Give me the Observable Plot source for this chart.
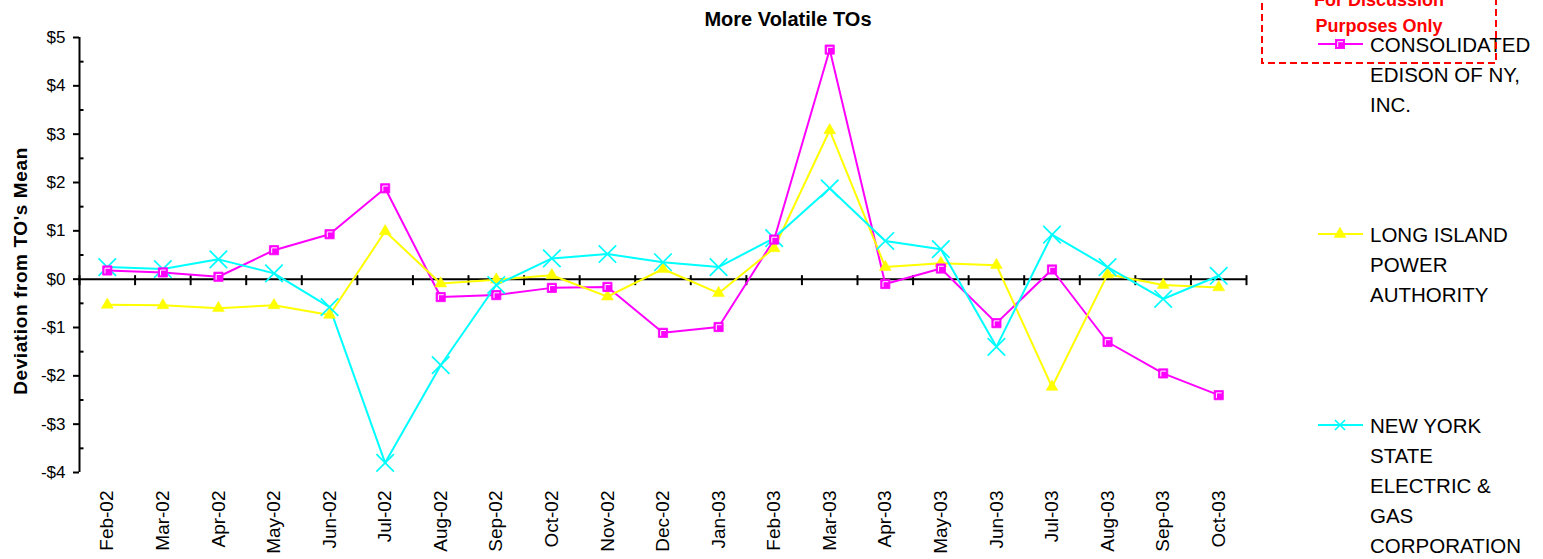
<!DOCTYPE html>
<html>
<head>
<meta charset="utf-8">
<script src="https://cdn.jsdelivr.net/npm/d3@7"></script>
<script src="https://cdn.jsdelivr.net/npm/@observablehq/plot@0.6"></script>
<style>
  body { margin: 0; background: #fff; }
  #wrap { position: relative; width: 1543px; height: 559px; overflow: hidden; font-family: "Liberation Sans", Arial, sans-serif; }
  #wrap > svg { position: absolute; left: 0; top: 0; }
</style>
</head>
<body>
<div id="wrap"></div>
<script>
// ---- data ----
const months = ["Feb-02","Mar-02","Apr-02","May-02","Jun-02","Jul-02","Aug-02","Sep-02","Oct-02","Nov-02","Dec-02","Jan-03","Feb-03","Mar-03","Apr-03","May-03","Jun-03","Jul-03","Aug-03","Sep-03","Oct-03"];
const conEd = [0.18, 0.14, 0.05, 0.60, 0.93, 1.88, -0.37, -0.33, -0.18, -0.16, -1.11, -0.99, 0.82, 4.75, -0.10, 0.22, -0.91, 0.20, -1.30, -1.95, -2.40];
const lipa  = [-0.53, -0.54, -0.60, -0.54, -0.74, 0.99, -0.09, -0.01, 0.08, -0.36, 0.21, -0.29, 0.64, 3.08, 0.25, 0.33, 0.29, -2.23, 0.10, -0.12, -0.17];
const nyseg = [0.25, 0.21, 0.41, 0.12, -0.58, -3.80, -1.78, -0.12, 0.43, 0.52, 0.35, 0.25, 0.85, 1.88, 0.79, 0.62, -1.40, 0.92, 0.25, -0.41, 0.07];
const seriesLabels = [
  ["CONSOLIDATED", "EDISON OF NY,", "INC."],
  ["LONG ISLAND", "POWER", "AUTHORITY"],
  ["NEW YORK", "STATE", "ELECTRIC &", "GAS", "CORPORATION"]
];
const seriesColors = ["#FF00FF", "#FFFF00", "#00FFFF"];
const yTicks = [-4, -3, -2, -1, 0, 1, 2, 3, 4, 5];
const yMinorTicks = [-3.5, -2.5, -1.5, -0.5, 0.5, 1.5, 2.5, 3.5, 4.5];
const chartTitle = "More Volatile TOs";
const yTitle = "Deviation from TO's Mean";
const stampLines = ["For Discussion", "Purposes Only"];

// ---- build ----
const FONT = '"Liberation Sans", Arial, sans-serif';
const idx = months.map((_, i) => i);
const bounds = d3.range(months.length + 1).map(i => i - 0.5);
const toRows = vals => vals.map((v, i) => ({i, v}));
const fmt = d => d < 0 ? `-$${-d}` : `$${d}`;

const minorTick = {draw(ctx) { ctx.moveTo(0, 0); ctx.lineTo(4, 0); }};
const crossTick = {draw(ctx) { ctx.moveTo(0, -4); ctx.lineTo(0, 6); }};
const innerMark = {draw(ctx) { ctx.moveTo(-2.3, 3); ctx.lineTo(-2.3, -2.3); ctx.lineTo(3, -2.3); }};

const plot = Plot.plot({
  width: 1543,
  height: 559,
  marginLeft: 79,
  marginRight: 297,
  marginTop: 37,
  marginBottom: 87,
  style: {fontFamily: FONT, color: "#000", background: "transparent", overflow: "visible"},
  x: {domain: [-0.5, months.length - 0.5]},
  y: {domain: [-4, 5]},
  marks: [
    Plot.ruleX([-0.5], {stroke: "#000", strokeWidth: 2}),
    Plot.axisY({ticks: yTicks, tickSize: 6, tickPadding: 8, tickFormat: fmt, fontSize: 17, strokeWidth: 2, label: null}),
    Plot.dot(yMinorTicks, {y: d => d, frameAnchor: "left", symbol: minorTick, fill: "none", stroke: "#000", strokeWidth: 2}),
    Plot.axisX({ticks: idx, tickFormat: i => months[i], tickRotate: -90, tickSize: 0, tickPadding: 18, fontSize: 19, label: null}),
    Plot.ruleY([0], {stroke: "#000", strokeWidth: 2}),
    Plot.dot(bounds, {x: d => d, y: 0, symbol: crossTick, fill: "none", stroke: "#000", strokeWidth: 2}),
    // lines
    Plot.line(toRows(conEd), {x: "i", y: "v", stroke: seriesColors[0], strokeWidth: 2}),
    Plot.line(toRows(lipa),  {x: "i", y: "v", stroke: seriesColors[1], strokeWidth: 2}),
    Plot.line(toRows(nyseg), {x: "i", y: "v", stroke: seriesColors[2], strokeWidth: 2}),
    // markers
    Plot.dot(toRows(lipa),  {x: "i", y: "v", symbol: "triangle", r: 4.4, fill: seriesColors[1], stroke: seriesColors[1], strokeWidth: 0.5}),
    Plot.dot(toRows(nyseg), {x: "i", y: "v", symbol: "times", r: 8, fill: "none", stroke: seriesColors[2], strokeWidth: 1.7}),
    Plot.dot(toRows(conEd), {x: "i", y: "v", symbol: "square", r: 5.2, fill: seriesColors[0], stroke: seriesColors[0], strokeWidth: 0.8}),
    Plot.dot(toRows(conEd), {x: "i", y: "v", symbol: innerMark, fill: "none", stroke: "#fff", strokeWidth: 1})
  ]
});

const wrap = document.getElementById("wrap");
wrap.appendChild(plot);

// ---- overlay: title, y title, legend, stamp ----
const ns = "http://www.w3.org/2000/svg";
const ov = d3.select(wrap).append("svg")
  .attr("xmlns", ns).attr("width", 1543).attr("height", 559)
  .style("font-family", FONT);

ov.append("text").attr("x", 788).attr("y", 26).attr("text-anchor", "middle")
  .attr("font-weight", "bold").attr("font-size", 20).attr("fill", "#000").text(chartTitle);

ov.append("text").attr("transform", "translate(27,271) rotate(-90)").attr("text-anchor", "middle")
  .attr("font-weight", "bold").attr("font-size", 19).attr("letter-spacing", 0.6).attr("fill", "#000").text(yTitle);

// legend
const legendY = [44, 234, 425];
const markerFns = [
  (g, c) => {
    g.append("rect").attr("x", -4.6).attr("y", -4.6).attr("width", 9.2).attr("height", 9.2).attr("fill", c).attr("stroke", c).attr("stroke-width", 0.8);
    g.append("path").attr("d", "M-2.3,3V-2.3H3").attr("fill", "none").attr("stroke", "#fff").attr("stroke-width", 1);
  },
  (g, c) => g.append("path").attr("d", d3.symbol(d3.symbolTriangle, Math.PI * 4.4 * 4.4)()).attr("fill", c).attr("stroke", c).attr("stroke-width", 0.5),
  (g, c) => g.append("path").attr("d", "M-5,-5L5,5M-5,5L5,-5").attr("fill", "none").attr("stroke", c).attr("stroke-width", 1.7)
];
seriesLabels.forEach((lines, k) => {
  const g = ov.append("g").attr("transform", `translate(0,${legendY[k]})`);
  g.append("line").attr("x1", 1318).attr("x2", 1363).attr("y1", 0).attr("y2", 0)
    .attr("stroke", seriesColors[k]).attr("stroke-width", 2);
  markerFns[k](g.append("g").attr("transform", "translate(1340,0)"), seriesColors[k]);
  const t = g.append("text").attr("font-size", 20.5).attr("fill", "#000");
  lines.forEach((ln, j) => t.append("tspan").attr("x", 1370).attr("y", 7.5 + j * 30).text(ln));
});

// stamp box
ov.append("rect").attr("x", 1262).attr("y", -10).attr("width", 234).attr("height", 73)
  .attr("fill", "none").attr("stroke", "#FF0000").attr("stroke-width", 2).attr("stroke-dasharray", "7 4");
stampLines.forEach((s, j) => {
  ov.append("text").attr("x", 1379).attr("y", 6 + j * 26).attr("text-anchor", "middle")
    .attr("font-weight", "bold").attr("font-size", 18).attr("fill", "#FF0000").text(s);
});
</script>
</body>
</html>
